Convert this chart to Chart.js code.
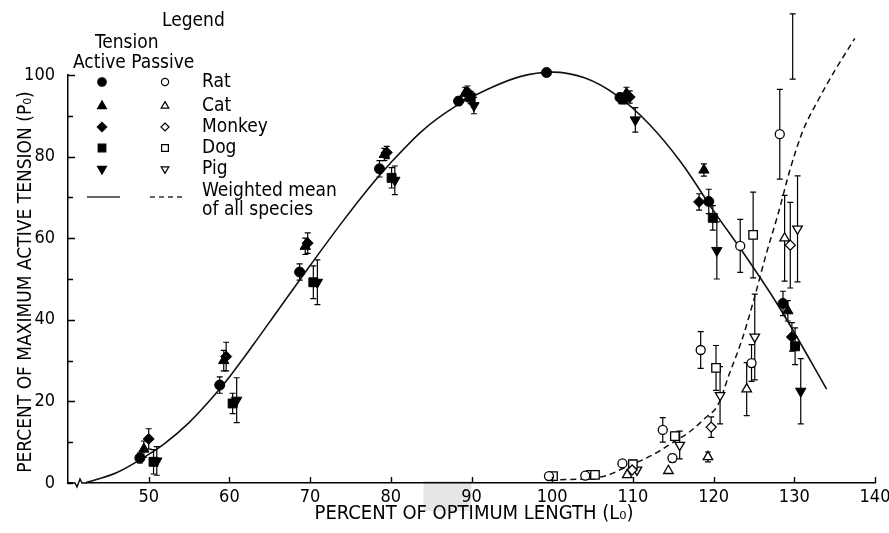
<!DOCTYPE html>
<html>
<head>
<meta charset="utf-8">
<script src="https://cdn.jsdelivr.net/npm/chart.js@4/dist/chart.umd.min.js"></script>
<style>
  html, body { margin: 0; padding: 0; background: #fff; }
  #wrap { width: 889px; height: 533px; }
</style>
</head>
<body>
<div id="wrap"><canvas id="c" width="889" height="533"></canvas></div>
<script>
const FONT = "'DejaVu Sans Condensed','Liberation Sans Narrow','DejaVu Sans',sans-serif";

// Axis ticks
const xTicks = [50, 60, 70, 80, 90, 100, 110, 120, 130, 140];
const yMajorTicks = [0, 20, 40, 60, 80, 100];
const yMinorTicks = [10, 30, 50, 70, 90];

// Species and legend text
const species = ['Rat', 'Cat', 'Monkey', 'Dog', 'Pig'];
const legendLineText = ['Weighted mean', 'of all species'];

// Active tension, [length %, tension %, error half-width]
const ratActive = [[48.9, 6.1, 1.2], [58.8, 24, 2], [68.7, 51.7, 2], [78.6, 77, 2], [88.4, 93.6, 1],
  [99.3, 100.6, 0], [108.4, 94.5, 1], [119.4, 69, 3], [128.6, 44, 3]];
const catActive = [[49.4, 8.3, 2], [59.3, 30, 2.5], [69.4, 58, 2], [79.2, 80.5, 1.5], [89.2, 95.5, 1.5],
  [109.2, 95.5, 1.5], [118.8, 76.7, 1.5], [129.2, 42.2, 2.5]];
const monkeyActive = [[50, 10.8, 2.5], [59.6, 31, 3.5], [69.7, 58.8, 2.5], [79.5, 81, 1.5], [89.5, 95.8, 1.5],
  [109.6, 94.6, 1.5], [118.2, 68.9, 2], [129.7, 35.8, 3.5]];
const dogActive = [[50.6, 5.2, 3], [60.4, 19.5, 2.5], [70.4, 49.2, 4], [80.1, 74.8, 2.5], [89.9, 94.5, 1.5],
  [108.8, 94, 1], [119.9, 65, 3], [130.1, 33.5, 4.5]];
const pigActive = [[51, 5.4, 3.5], [60.9, 20.3, 5.5], [70.9, 49.2, 5.5], [80.5, 74.2, 3.5], [90.3, 92.5, 2],
  [110.3, 89, 3], [120.4, 57, 7], [130.8, 22.5, 8]];

// Passive tension, [length %, tension %, error half-width]
const ratPassive = [[99.6, 1.7, 0], [104.1, 1.8, 0], [108.7, 4.8, 0], [113.7, 13, 3], [114.9, 6.1, 1],
  [118.4, 32.6, 4.5], [123.3, 58.1, 6.5], [124.7, 29.4, 4.5], [128.2, 85.5, 11]];
const catPassive = [[109.3, 2.0, 0], [114.4, 3, 0], [119.3, 6.4, 1.2], [124.1, 23, 6.5], [128.8, 60, 10.5]];
const monkeyPassive = [[109.9, 3.2, 0], [119.7, 13.7, 2.5], [129.5, 58.3, 10.5]];
const dogPassive = [[100.1, 1.7, 0], [104.8, 2, 0], [105.3, 2, 0], [110, 4.6, 0], [115.2, 11.5, 1],
  [120.3, 28.2, 5.5], [124.9, 60.8, 10.5], [129.8, 107, 8]];
const pigPassive = [[110.5, 3.2, 0], [115.8, 9.3, 3.4], [120.8, 21.5, 7], [125.1, 35.8, 10.5], [130.4, 62.3, 13]];

// Weighted mean curves of all species
const activeMeanX = [42, 46, 50, 52, 55, 58, 60, 63, 66, 70, 74, 78, 80, 84, 88, 92, 96, 100, 104, 108, 112, 116, 120, 124, 128, 132, 134];
const activeMeanY = [0, 2.5, 7, 9.7, 14.8, 21.2, 26, 34, 42.3, 53.3, 64, 74, 78.5, 86.5, 92.3, 96.5, 99.6, 100.7, 99.3, 95, 88, 78.5, 66.7, 55.5, 43.5, 30, 23];
const passiveMeanX = [101, 103, 105, 107, 109, 111, 113, 115, 117, 119, 120.5, 122, 123.5, 125, 126.5, 128, 129.5, 131, 133, 135, 137.5];
const passiveMeanY = [0.8, 0.9, 1.2, 2, 3.8, 5.5, 7.5, 10, 12.5, 16, 19, 27, 35, 45, 56, 66, 77, 86, 94, 101, 109];

const activeSets = [ratActive, catActive, monkeyActive, dogActive, pigActive];
const passiveSets = [ratPassive, catPassive, monkeyPassive, dogPassive, pigPassive];

// marker look per species (circle, triangle, diamond, square, inverted triangle)
const markerStyle = ['circle', 'triangle', 'rectRot', 'rect', 'triangle'];
const markerRot = [0, 0, 0, 0, 180];
const markerRadius = [5, 6, 5.5, 6.3, 6];
const openRadius = [4.5, 5.5, 5, 6, 5.5];

function toPoints(rows) { return rows.map(r => ({ x: r[0], y: r[1] })); }

const datasets = [];
activeSets.forEach((rows, i) => {
  datasets.push({
    type: 'scatter', label: species[i] + ' active', data: toPoints(rows), err: rows.map(r => r[2]),
    pointStyle: markerStyle[i], rotation: markerRot[i], pointRadius: markerRadius[i],
    backgroundColor: '#000', borderColor: '#000', borderWidth: 1, clip: false, order: 1
  });
});
passiveSets.forEach((rows, i) => {
  datasets.push({
    type: 'scatter', label: species[i] + ' passive', data: toPoints(rows), err: rows.map(r => r[2]),
    pointStyle: markerStyle[i], rotation: markerRot[i], pointRadius: openRadius[i],
    backgroundColor: '#fff', borderColor: '#000', borderWidth: 1.3, clip: false, order: 1
  });
});
datasets.push({
  type: 'line', label: 'Active mean', data: activeMeanX.map((x, i) => ({ x, y: activeMeanY[i] })),
  borderColor: '#111', borderWidth: 1.6, pointRadius: 0, cubicInterpolationMode: 'monotone',
  fill: false, clip: false, order: 2
});
datasets.push({
  type: 'line', label: 'Passive mean', data: passiveMeanX.map((x, i) => ({ x, y: passiveMeanY[i] })),
  borderColor: '#111', borderWidth: 1.5, borderDash: [6, 4], pointRadius: 0, cubicInterpolationMode: 'monotone',
  fill: false, clip: false, order: 2
});

function drawMarker(ctx, style, rot, r, x, y, filled) {
  ctx.save();
  ctx.translate(x, y);
  ctx.rotate(rot * Math.PI / 180);
  ctx.beginPath();
  if (style === 'circle') {
    ctx.arc(0, 0, r, 0, Math.PI * 2);
  } else if (style === 'triangle') {
    for (let k = 0; k < 3; k++) {
      const a = k * 2 * Math.PI / 3;
      const px = Math.sin(a) * r, py = -Math.cos(a) * r;
      if (k === 0) ctx.moveTo(px, py); else ctx.lineTo(px, py);
    }
    ctx.closePath();
  } else if (style === 'rectRot') {
    ctx.moveTo(0, -r); ctx.lineTo(r, 0); ctx.lineTo(0, r); ctx.lineTo(-r, 0); ctx.closePath();
  } else {
    const s = r * Math.SQRT1_2;
    ctx.rect(-s, -s, 2 * s, 2 * s);
  }
  ctx.fillStyle = filled ? '#000' : '#fff';
  ctx.fill();
  ctx.lineWidth = 1.2;
  ctx.strokeStyle = '#000';
  ctx.stroke();
  ctx.restore();
}

const decorations = {
  id: 'decorations',
  beforeDraw(chart) {
    const ctx = chart.ctx;
    const xs = chart.scales.x;
    // shaded patch behind the 90 label
    const px = xs.getPixelForValue(90);
    ctx.save();
    ctx.fillStyle = '#e6e6e6';
    ctx.fillRect(px - 48, chart.chartArea.bottom - 2, 48, 30);
    ctx.restore();
  },
  beforeDatasetsDraw(chart) {
    // error bars under the markers
    const ctx = chart.ctx;
    const ys = chart.scales.y;
    ctx.save();
    ctx.strokeStyle = '#000';
    ctx.lineWidth = 1.2;
    chart.data.datasets.forEach((ds, di) => {
      if (!ds.err) return;
      const meta = chart.getDatasetMeta(di);
      ds.data.forEach((p, i) => {
        const e = ds.err[i];
        if (!e) return;
        const x = meta.data[i].x;
        const y1 = ys.getPixelForValue(p.y + e);
        const y2 = ys.getPixelForValue(p.y - e);
        ctx.beginPath();
        ctx.moveTo(x, y1); ctx.lineTo(x, y2);
        ctx.moveTo(x - 3, y1); ctx.lineTo(x + 3, y1);
        ctx.moveTo(x - 3, y2); ctx.lineTo(x + 3, y2);
        ctx.stroke();
      });
    });
    ctx.restore();
  },
  afterDraw(chart) {
    const ctx = chart.ctx;
    const xs = chart.scales.x, ys = chart.scales.y;
    const area = chart.chartArea;
    ctx.save();
    ctx.strokeStyle = '#000';
    ctx.lineWidth = 1.4;
    // inward tick marks
    ctx.beginPath();
    xTicks.forEach(v => {
      const x = Math.round(xs.getPixelForValue(v)) + 0.5;
      ctx.moveTo(x, area.bottom); ctx.lineTo(x, area.bottom - 6);
    });
    yMajorTicks.forEach(v => {
      const y = Math.round(ys.getPixelForValue(v)) + 0.5;
      ctx.moveTo(area.left, y); ctx.lineTo(area.left + 7, y);
    });
    yMinorTicks.forEach(v => {
      const y = Math.round(ys.getPixelForValue(v)) + 0.5;
      ctx.moveTo(area.left, y); ctx.lineTo(area.left + 5, y);
    });
    ctx.stroke();

    // axis break on the length axis
    const b = area.bottom;
    ctx.fillStyle = '#fff';
    ctx.fillRect(area.left + 5, b - 3, 13, 6);
    ctx.beginPath();
    ctx.moveTo(area.left + 4, b);
    ctx.lineTo(area.left + 7, b);
    ctx.lineTo(area.left + 9, b + 4);
    ctx.lineTo(area.left + 12, b - 4);
    ctx.lineTo(area.left + 14, b);
    ctx.lineTo(area.left + 19, b);
    ctx.stroke();

    // axis titles
    ctx.fillStyle = '#000';
    ctx.textAlign = 'center';
    ctx.textBaseline = 'middle';
    ctx.font = '20px ' + FONT;
    ctx.fillText('PERCENT OF OPTIMUM LENGTH (L\u2080)', 474, 514);
    ctx.save();
    ctx.font = '19px ' + FONT;
    ctx.translate(26, 282);
    ctx.rotate(-Math.PI / 2);
    ctx.fillText('PERCENT OF MAXIMUM ACTIVE TENSION (P\u2080)', 0, 0);
    ctx.restore();

    // legend
    ctx.font = '19px ' + FONT;
    ctx.textAlign = 'left';
    ctx.fillText('Legend', 162, 21);
    ctx.fillText('Tension', 95, 43);
    ctx.fillText('Active Passive', 73, 63);
    const rowY = [82, 106, 127, 148, 169];
    species.forEach((s, i) => {
      drawMarker(ctx, markerStyle[i], markerRot[i], markerRadius[i] * 0.85, 102, rowY[i], true);
      drawMarker(ctx, markerStyle[i], markerRot[i], openRadius[i] * 0.8, 165, rowY[i], false);
      ctx.fillStyle = '#000';
      ctx.fillText(s, 202, rowY[i]);
    });
    ctx.fillText(legendLineText[0], 202, 191);
    ctx.fillText(legendLineText[1], 202, 210);
    ctx.lineWidth = 1.5;
    ctx.strokeStyle = '#333';
    ctx.beginPath();
    ctx.moveTo(87, 197); ctx.lineTo(120, 197);
    ctx.stroke();
    ctx.setLineDash([5, 4]);
    ctx.beginPath();
    ctx.moveTo(150, 197); ctx.lineTo(186, 197);
    ctx.stroke();
    ctx.restore();
  }
};

new Chart(document.getElementById('c'), {
  data: { datasets },
  options: {
    responsive: false,
    animation: false,
    layout: { padding: { top: 75, right: 14, left: 0, bottom: 0 } },
    plugins: { legend: { display: false }, tooltip: { enabled: false } },
    scales: {
      x: {
        type: 'linear', min: 40, max: 140,
        afterFit(scale) { scale.height = 50; scale.paddingLeft = 0; scale.paddingRight = 0; },
        grid: { display: false },
        border: { display: true, color: '#000', width: 1.5 },
        ticks: {
          stepSize: 10, autoSkip: false, maxRotation: 0, padding: -4,
          color: '#000', font: { family: FONT, size: 18 },
          callback: v => (xTicks.includes(v) ? String(v) : '')
        }
      },
      y: {
        type: 'linear', min: 0, max: 100,
        afterFit(scale) { scale.width = 68; scale.paddingTop = 0; scale.paddingBottom = 0; },
        grid: { display: false },
        border: { display: true, color: '#000', width: 1.5 },
        ticks: {
          stepSize: 10, autoSkip: false, padding: 5,
          color: '#000', font: { family: FONT, size: 18 },
          callback: v => (yMajorTicks.includes(v) ? String(v) : '')
        }
      }
    }
  },
  plugins: [decorations]
});
</script>
</body>
</html>
